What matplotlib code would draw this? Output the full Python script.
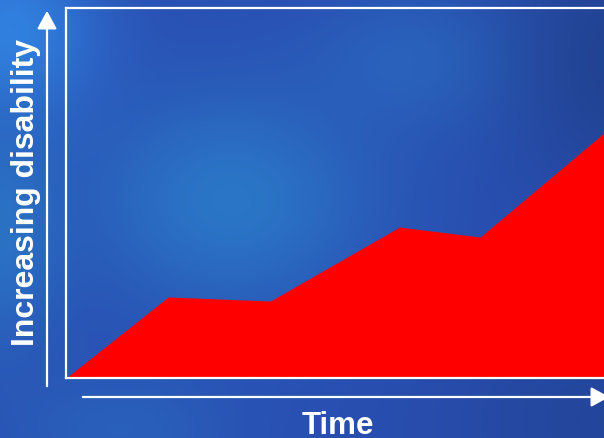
import matplotlib
matplotlib.use('Agg')
import matplotlib.pyplot as plt
import matplotlib.patches as patches
import numpy as np

plt.rcParams['font.family'] = ['Liberation Sans', 'DejaVu Sans']

# --- data ---
time = [0.0, 1.9, 3.8, 6.2, 7.7, 10.0]
disability = [0.0, 21.9, 20.8, 40.8, 38.1, 66.2]

W, H = 604, 438
fig = plt.figure(figsize=(W / 100, H / 100), dpi=100)

# --- 背景: 蓝色渐变 ---
bg = fig.add_axes([0, 0, 1, 1])
yy, xx = np.mgrid[0:H, 0:W]


def blob(cx, cy, sx, sy):
    return np.exp(-(((xx - cx) / sx) ** 2 + ((yy - cy) / sy) ** 2))


base = np.array([0.16, 0.31, 0.70])
light = np.array([0.17, 0.50, 0.80])
bright = np.array([0.20, 0.55, 0.92])
dark = np.array([0.12, 0.24, 0.52])
img = np.ones((H, W, 3)) * base
for col, w in [(light, 0.8 * blob(230, 200, 140, 110)),
               (bright, 0.8 * blob(10, 30, 90, 90)),
               (light, 0.7 * blob(0, 230, 60, 120)),
               (light, 0.4 * blob(420, 60, 110, 70)),
               (dark, 0.7 * blob(620, 60, 120, 140)),
               (dark, 0.5 * blob(620, 420, 180, 120)),
               (light, 0.35 * blob(120, 430, 110, 60))]:
    img = img * (1 - w[..., None]) + col * w[..., None]
bg.imshow(img, extent=(0, W, H, 0), aspect='auto', interpolation='bilinear')
bg.set_xlim(0, W)
bg.set_ylim(H, 0)
bg.axis('off')

# --- axis arrows ---
arrow_kw = dict(arrowstyle='-|>,head_length=0.55,head_width=0.3', mutation_scale=20,
                color='white', lw=1.6)
bg.add_patch(patches.FancyArrowPatch((47, 389), (47, 8), **arrow_kw))
bg.add_patch(patches.FancyArrowPatch((80, 397), (612, 397), **arrow_kw))

bg.text(26, 192, 'Increasing disability', rotation=90, ha='center', va='center',
        fontsize=23, fontweight='bold', color='white')
bg.text(338, 434, 'Time', ha='center', va='baseline',
        fontsize=22.5, fontweight='bold', color='white')

# --- main plot ---
ax = fig.add_axes([66 / W, (H - 378) / H, (620 - 66) / W, 370 / H])
ax.patch.set_alpha(0)
ax.fill_between(time, disability, 0, color='#ff0000', lw=0)
ax.set_xlim(0, 10.3)
ax.set_ylim(0, 100)
ax.set_xticks([])
ax.set_yticks([])
for s in ax.spines.values():
    s.set_color('white')
    s.set_linewidth(1.6)

plt.savefig('out.png', dpi=100)
